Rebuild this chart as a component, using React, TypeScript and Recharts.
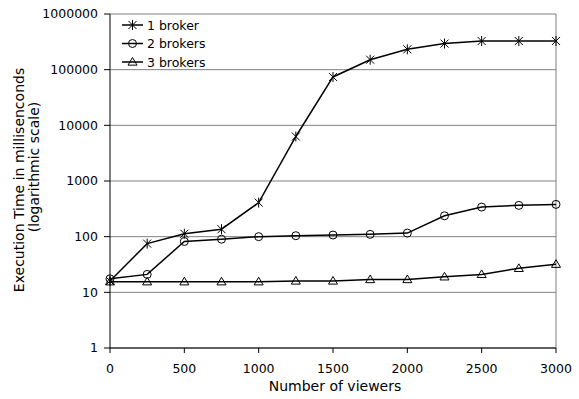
import { LineChart, Line, XAxis, YAxis, CartesianGrid, ReferenceLine } from 'recharts';

const viewers = [0, 250, 500, 750, 1000, 1250, 1500, 1750, 2000, 2250, 2500, 2750, 3000];
const oneBroker = [16, 75, 113, 136, 410, 6300, 74000, 151000, 232000, 294000, 327000, 327000, 328000];
const twoBrokers = [17.5, 21, 82, 90, 100, 104, 107, 110, 116, 237, 340, 365, 380];
const threeBrokers = [15.5, 15.5, 15.5, 15.5, 15.5, 16, 16, 17, 17, 19, 21, 27, 32];
const xTicks = [0, 500, 1000, 1500, 2000, 2500, 3000];
const yTicks = [1, 10, 100, 1000, 10000, 100000, 1000000];

const data = viewers.map((v, i) => ({
  viewers: v,
  one: oneBroker[i],
  two: twoBrokers[i],
  three: threeBrokers[i],
}));

const font = 'DejaVu Sans, Verdana, sans-serif';

function Star({ cx, cy }: any) {
  const r = 4;
  return (
    <g stroke="#000" strokeWidth={1}>
      <line x1={cx - r} y1={cy - r} x2={cx + r} y2={cy + r} />
      <line x1={cx - r} y1={cy + r} x2={cx + r} y2={cy - r} />
      <line x1={cx} y1={cy - r - 1} x2={cx} y2={cy + r + 1} />
    </g>
  );
}

function Circle({ cx, cy }: any) {
  return <circle cx={cx} cy={cy} r={4} fill="none" stroke="#000" strokeWidth={1} />;
}

function Triangle({ cx, cy }: any) {
  const r = 4.5;
  return (
    <polygon
      points={`${cx},${cy - r} ${cx + r},${cy + r * 0.7} ${cx - r},${cy + r * 0.7}`}
      fill="none"
      stroke="#000"
      strokeWidth={1}
    />
  );
}

const legendItems = [
  { name: '1 broker', Marker: Star },
  { name: '2 brokers', Marker: Circle },
  { name: '3 brokers', Marker: Triangle },
];

function LegendBox() {
  return (
    <svg width={101} height={54} style={{ position: 'absolute', left: 111, top: 15, background: '#fff' }}>
      {legendItems.map((it, i) => {
        const y = 10 + i * 18.5;
        return (
          <g key={it.name}>
            <line x1={11} y1={y} x2={32} y2={y} stroke="#000" strokeWidth={1.5} />
            <it.Marker cx={21.5} cy={y} />
            <text x={36} y={y + 4.5} fontSize={12.5} fontFamily={font} fill="#000">
              {it.name}
            </text>
          </g>
        );
      })}
    </svg>
  );
}

function YLabel() {
  return (
    <g fontSize={14} fontFamily={font} fill="#000">
      <text transform="rotate(-90 24 180)" x={24} y={180} textAnchor="middle">
        Execution Time in millisenconds
      </text>
      <text transform="rotate(-90 39 167)" x={39} y={167} textAnchor="middle">
        (logarithmic scale)
      </text>
    </g>
  );
}

function XLabel() {
  return (
    <text x={335} y={391} textAnchor="middle" fontSize={14} fontFamily={font} fill="#000">
      Number of viewers
    </text>
  );
}

export default function App() {
  return (
    <div style={{ position: 'absolute', left: 0, top: 0, width: 579, height: 399, background: '#fff' }}>
      <LineChart width={579} height={399} data={data} margin={{ top: 14, right: 23, bottom: 11, left: 0 }}>
        <CartesianGrid horizontal vertical={false} stroke="#808080" strokeWidth={1} />
        <XAxis
          dataKey="viewers"
          type="number"
          domain={[0, 3000]}
          ticks={xTicks}
          height={40}
          stroke="#000"
          tickSize={5}
          tickMargin={11}
          tick={{ fontSize: 12.5, fontFamily: font, fill: '#000' }}
          label={<XLabel />}
        />
        <YAxis
          scale="log"
          domain={[1, 1000000]}
          ticks={yTicks}
          allowDataOverflow
          width={110}
          stroke="#000"
          tickSize={6}
          tickMargin={6}
          tick={{ fontSize: 12.5, fontFamily: font, fill: '#000' }}
          label={<YLabel />}
        />
        <ReferenceLine x={3000} stroke="#808080" strokeWidth={1} />
        <Line type="linear" dataKey="one" stroke="#000" strokeWidth={1.5} dot={<Star />} isAnimationActive={false} />
        <Line type="linear" dataKey="two" stroke="#000" strokeWidth={1.5} dot={<Circle />} isAnimationActive={false} />
        <Line type="linear" dataKey="three" stroke="#000" strokeWidth={1.5} dot={<Triangle />} isAnimationActive={false} />
      </LineChart>
      <LegendBox />
    </div>
  );
}
